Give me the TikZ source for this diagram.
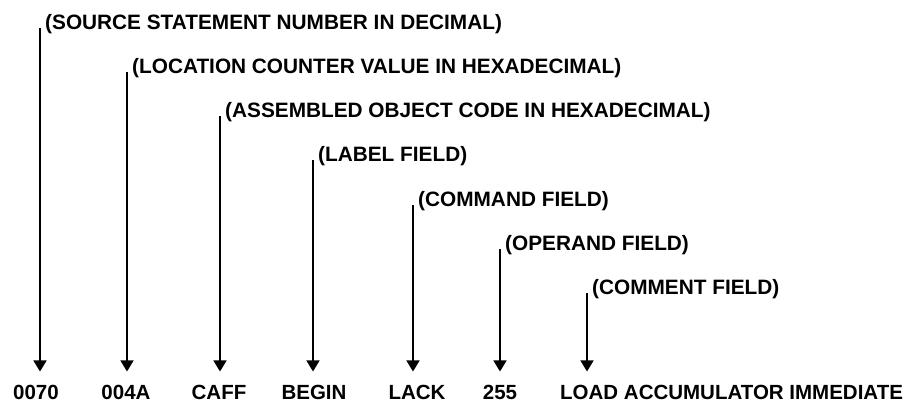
\documentclass[tikz,border=0pt]{standalone}
\usepackage{fontspec}
\setmainfont{Liberation Sans}
\usetikzlibrary{arrows.meta,positioning}

\begin{document}
\begin{tikzpicture}[x=1pt,y=-1pt,
      field node/.style={anchor=base west,inner sep=0pt,xshift=5pt,yshift=-1pt,font=\fontsize{20.8}{24}\selectfont\bfseries},
      value node/.style={anchor=base,inner sep=0pt,font=\fontsize{20.5}{24}\selectfont\bfseries},
      pointer/.style={line width=1.4pt,-{Triangle[width=13pt,length=11pt]},shorten >=13pt}]
      \useasboundingbox (0,0) rectangle (909,402);

      % tops of the pointer lines
      \coordinate (p1) at (40,28);
      \coordinate (p2) at (127,72);
      \coordinate (p3) at (220,116);
      \coordinate (p4) at (313,160);
      \coordinate (p5) at (413,205);
      \coordinate (p6) at (500,249);
      \coordinate (p7) at (587,293);

      \node[field node] (src) at (p1) {(SOURCE STATEMENT NUMBER IN DECIMAL)};
      \node[field node] (loc) at (p2) {(LOCATION COUNTER VALUE IN HEXADECIMAL)};
      \node[field node] (obj) at (p3) {(ASSEMBLED OBJECT CODE IN HEXADECIMAL)};
      \node[field node] (lbl) at (p4) {(LABEL FIELD)};
      \node[field node] (cmd) at (p5) {(COMMAND FIELD)};
      \node[field node] (opd) at (p6) {(OPERAND FIELD)};
      \node[field node] (cmt) at (p7) {(COMMENT FIELD)};

      % the statement line
      \node[value node] (num) at (36,399) {0070};
      \node[value node] (adr) at (126,399) {004A};
      \node[value node] (code) at (219,399) {CAFF};
      \node[value node] (begin) at (314,399) {BEGIN};
      \node[value node] (lack) at (417,399) {LACK};
      \node[value node] (val) at (500,399) {255};
      \node[value node,anchor=base west] (load) at (560,399) {LOAD ACCUMULATOR IMMEDIATE};

      \draw[pointer] (p1) -- (p1 |- num.north);
      \draw[pointer] (p2) -- (p2 |- adr.north);
      \draw[pointer] (p3) -- (p3 |- code.north);
      \draw[pointer] (p4) -- (p4 |- begin.north);
      \draw[pointer] (p5) -- (p5 |- lack.north);
      \draw[pointer] (p6) -- (p6 |- val.north);
      \draw[pointer] (p7) -- (p7 |- load.north);
\end{tikzpicture}
\end{document}
